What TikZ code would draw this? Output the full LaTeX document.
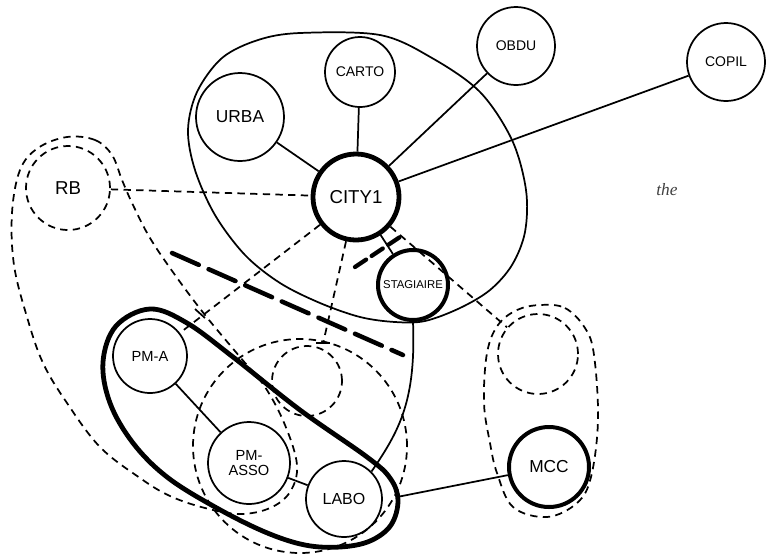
\documentclass[tikz,border=0pt]{standalone}
\usepackage{fontspec}
\setmainfont{Liberation Sans}
\newfontfamily\handfont{Liberation Serif}
\begin{document}
\begin{tikzpicture}[x=0.75pt,y=-0.75pt,
  nd/.style={circle, draw, line width=1.3pt, inner sep=0pt, align=center},
  thk/.style={line width=3.6pt},
  mid/.style={line width=3pt},
  dsh/.style={line width=1.3pt, dash pattern=on 5.5pt off 4pt},
  ln/.style={line width=1.3pt},
  bigdash/.style={line width=3.4pt, line cap=round, dash pattern=on 22pt off 8pt},
  shortdash/.style={line width=3.2pt, line cap=round, dash pattern=on 10pt off 5pt},
  fs/.style={font=\fontsize{#1}{#1}\selectfont}]
\useasboundingbox (0,0) rectangle (767,558);

% big solid enclosure around CITY1 group
\draw[ln] plot[smooth cycle, tension=0.55] coordinates {
  (300,33) (380,35) (432,58) (480,92) (512,140) (526,190) (525,232) (512,265)
  (490,290) (460,308) (425,321) (395,322) (360,317) (320,303) (280,283)
  (245,255) (215,215) (195,170) (188,130) (197,92) (222,58) (258,40)};

% RB dashed loop
\draw[dsh] plot[smooth cycle, tension=0.6] coordinates {
  (67,137) (95,140) (112,155) (122,180) (133,205) (150,238) (175,275) (205,315)
  (240,357) (265,387) (285,425) (297,465) (290,492) (270,508) (240,514) (205,508)
  (170,496) (140,478) (100,447) (67,403) (43,363) (27,317) (14,265) (12,213)
  (20,170) (38,148)};

% MCC dashed loop
\draw[dsh] plot[smooth cycle, tension=0.6] coordinates {
  (540,305) (565,308) (585,328) (594,355) (598,420) (591,477) (577,503) (547,517)
  (513,507) (497,473) (490,443) (484,403) (487,353) (498,325) (517,310)};

% thick group outline (PM-A, PM-ASSO, LABO)
\draw[thk] plot[smooth cycle, tension=0.6] coordinates {
  (150,309) (187,323) (233,357) (300,410) (367,457) (390,478) (398,500) (391,525)
  (370,541) (340,547) (305,545) (265,532) (215,507) (167,477) (133,443) (110,403)
  (103,362) (116,326)};

% nodes
\node[nd, minimum size=52.5pt, fs=10.5] (carto) at (360,72) {CARTO};
\node[nd, minimum size=66pt, fs=13] (urba) at (240,117) {URBA};
\node[nd, minimum size=58.5pt, fs=10.5] (obdu) at (516,46) {OBDU};
\node[nd, minimum size=58.5pt, fs=10.5] (copil) at (726,62) {COPIL};
\node[nd, thk, minimum size=64.5pt, fs=14] (city) at (356,197) {CITY1};
\node[nd, dsh, minimum size=63pt, fs=14] (rb) at (68,188) {RB};
\node[nd, mid, minimum size=52.5pt, fs=8.5] (stag) at (413,285) {STAGIAIRE};
\node[nd, minimum size=55.5pt, fs=11] (pma) at (150,356) {PM-A};
\node[nd, minimum size=61.5pt, fs=11, text width=40pt] (pmasso) at (249,463) {PM-\\ASSO};
\node[nd, minimum size=57pt, fs=12] (labo) at (344,499) {LABO};
\node[nd, mid, minimum size=60pt, fs=13] (mcc) at (549,467) {MCC};
\node[nd, dsh, minimum size=52.5pt] (dc) at (307,381) {};
\node[nd, dsh, minimum size=60pt] (dm) at (538,354) {};
\node[nd, dsh, minimum size=160.5pt] (bigc) at (300,446) {};
\node[text=black!75, font=\handfont\itshape\fontsize{13}{13}\selectfont] (the) at (667,190) {the};

% solid connectors
\draw[ln] (urba) -- (city);
\draw[ln] (carto) -- (city);
\draw[ln] (obdu) -- (city);
\draw[ln] (copil) -- (city);
\draw[ln] (city) -- (stag);
\draw[ln] (pma) -- (pmasso);
\draw[ln] (pmasso) -- (labo);
\draw[ln] (stag.south) .. controls (416,400) and (400,430) .. (labo.north east);
\coordinate (lm) at (397,497);
\draw[ln] (lm) -- (mcc);

% dashed connectors
\draw[dsh] (rb) -- (city);
\draw[dsh] (city) -- (pma);
\draw[dsh] (city) -- (bigc);
\draw[dsh] (city) -- (dm);

% small ticks
\coordinate (t1a) at (195,309); \coordinate (t1b) at (205,318);
\draw[ln] (t1a) -- (t1b);
\coordinate (t2a) at (316,343); \coordinate (t2b) at (330,343);
\draw[ln] (t2a) -- (t2b);

% thick dashed separators
\coordinate (s1) at (172,253); \coordinate (s2) at (403,355);
\draw[bigdash] (s1) -- (s2);
\coordinate (s3) at (355,267); \coordinate (s4) at (403,235);
\draw[shortdash] (s3) -- (s4);
\end{tikzpicture}
\end{document}
